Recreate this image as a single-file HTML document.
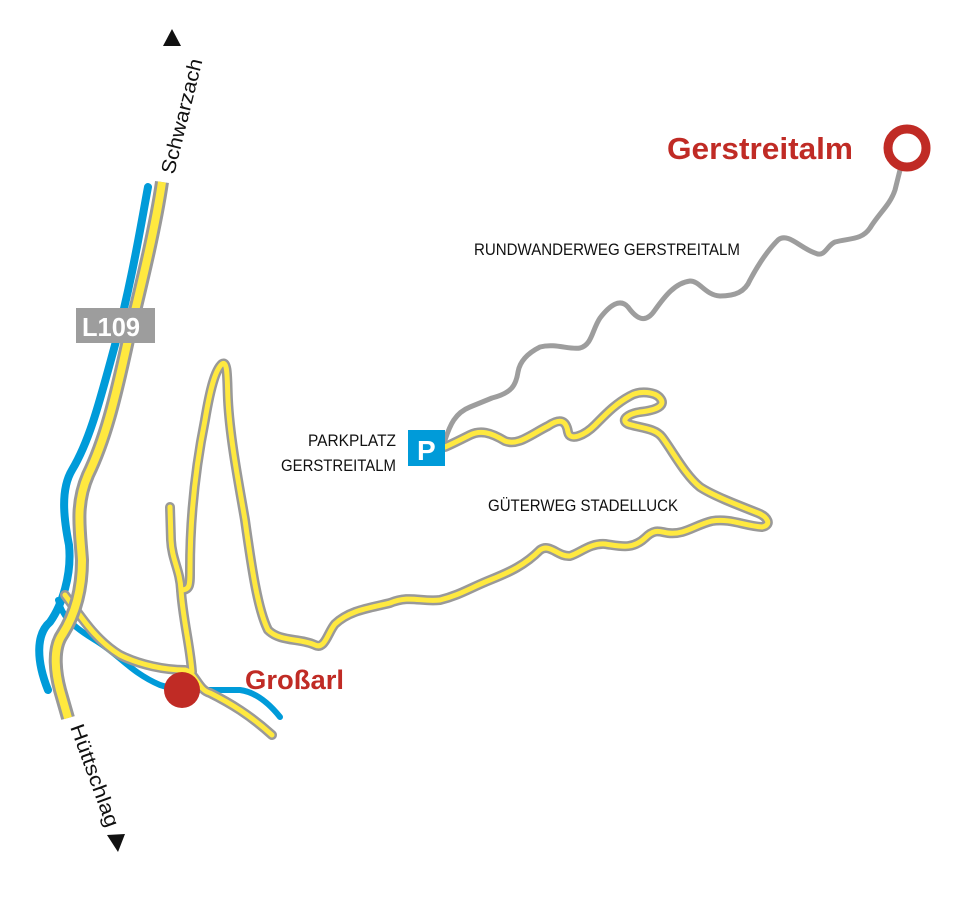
<!DOCTYPE html>
<html><head><meta charset="utf-8"><style>
html,body{margin:0;padding:0;background:#fff;}
svg{display:block}
text{font-family:"Liberation Sans",sans-serif}
</style></head><body>
<svg width="968" height="920" viewBox="0 0 968 920">
<defs>
<path id="r1" d="M162,182 C155,230 140,290 128,340 C115,400 105,440 88,475 C75,505 80,530 82,560 C82,590 75,615 62,635 C52,650 56,675 60,690 L68,718"/>
<path id="r2" d="M65,595 C80,615 95,640 120,655 C140,665 165,670 185,670 C195,672 198,690 210,693 C230,703 250,715 272,735"/>
<path id="r3" d="M170,507 L171,540 C172,560 180,570 181,590 C183,620 190,645 192,672"/>
<path id="r4" d="M181,590 C190,590 190,585 190,570 C190,520 195,470 205,420 C210,390 215,370 222,364 C228,360 227,380 228,400 C230,440 240,490 245,520 C252,570 258,610 268,630 C280,642 300,638 315,645 C325,650 328,632 335,624 C350,610 370,608 390,603 C410,595 420,602 440,600 C460,595 470,588 490,580 C510,572 525,565 540,550 C550,543 558,557 570,556 C580,553 590,543 605,544 C620,546 632,550 645,538 C655,528 660,532 668,533 C685,535 695,525 712,521 C730,518 745,526 762,527 C772,525 768,517 758,513 C735,504 712,495 700,487 C685,475 672,450 662,437 C655,428 640,428 628,424 C620,420 628,414 640,412 C658,410 666,405 660,398 C655,392 640,390 630,396 C615,404 605,415 595,425 C585,435 570,442 568,432 C566,420 560,418 548,426 C530,435 518,446 505,441 C490,432 480,430 470,435 C460,440 450,445 445,447"/>
</defs>
<g fill="none" stroke-linecap="round" stroke-linejoin="round">
<path d="M148,187 C140,230 132,280 115,345 C100,400 90,440 72,470 C60,490 64,520 69,545 C72,575 62,605 50,622 C36,634 36,660 48,690" stroke="#009bd9" stroke-width="8"/>
<path d="M58,600 C62,615 70,625 95,640 C120,655 130,672 160,685 C175,690 190,690 205,690 L240,690 C255,692 268,702 280,717" stroke="#009bd9" stroke-width="6"/>
<path d="M445,440 C450,425 455,413 470,407 L492,398 C512,393 516,385 518,372 C520,360 530,352 540,347 C555,343 570,350 580,348 C592,345 592,330 600,318 C610,305 620,298 628,307 C636,318 645,325 655,310 C665,296 675,283 690,281 C700,281 705,295 720,296 C735,296 745,292 750,280 C758,265 768,250 778,240 C788,232 800,248 815,253 C825,258 827,245 835,242 C850,238 862,240 870,228 C880,212 890,205 895,190 L900,170" stroke="#9d9d9d" stroke-width="5"/>
<use href="#r2" stroke="#999" stroke-width="10"/>
<use href="#r3" stroke="#999" stroke-width="10"/>
<use href="#r4" stroke="#999" stroke-width="10"/>
<use href="#r2" stroke="#ffe93f" stroke-width="5"/>
<use href="#r3" stroke="#ffe93f" stroke-width="5"/>
<use href="#r4" stroke="#ffe93f" stroke-width="5"/>
<use href="#r1" stroke="#999" stroke-width="14" stroke-linecap="butt"/>
<use href="#r1" stroke="#ffe93f" stroke-width="8" stroke-linecap="butt"/>
</g>
<circle cx="907" cy="148" r="19" fill="#fff" stroke="#c02b25" stroke-width="9"/>
<circle cx="182" cy="690" r="18" fill="#c02b25"/>
<rect x="76" y="308" width="79" height="35" fill="#9d9d9d"/>
<text x="82" y="336" font-size="26" font-weight="bold" fill="#fff" textLength="58" lengthAdjust="spacingAndGlyphs">L109</text>
<rect x="408" y="430" width="37" height="36" fill="#009bd9"/>
<text x="417" y="460" font-size="28" font-weight="bold" fill="#fff">P</text>
<text x="667" y="159" font-size="31" font-weight="bold" fill="#c02b25" textLength="186" lengthAdjust="spacingAndGlyphs">Gerstreitalm</text>
<text x="245" y="689" font-size="27" font-weight="bold" fill="#c02b25" textLength="99" lengthAdjust="spacingAndGlyphs">Großarl</text>
<text x="474" y="255" font-size="17" fill="#111" textLength="266" lengthAdjust="spacingAndGlyphs">RUNDWANDERWEG GERSTREITALM</text>
<text x="488" y="511" font-size="17" fill="#111" textLength="190" lengthAdjust="spacingAndGlyphs">GÜTERWEG STADELLUCK</text>
<text x="396" y="446" font-size="17" fill="#111" text-anchor="end" textLength="88" lengthAdjust="spacingAndGlyphs">PARKPLATZ</text>
<text x="396" y="471" font-size="17" fill="#111" text-anchor="end" textLength="115" lengthAdjust="spacingAndGlyphs">GERSTREITALM</text>
<text transform="translate(174,175) rotate(-76)" font-size="20" fill="#111" textLength="118" lengthAdjust="spacingAndGlyphs">Schwarzach</text>
<polygon points="172,29 163,46 181,46" fill="#111"/>
<text transform="translate(70,727) rotate(70)" font-size="20" fill="#111" textLength="108" lengthAdjust="spacingAndGlyphs">Hüttschlag</text>
<polygon points="118,852 107,835 125,834" fill="#111"/>
</svg>
</body></html>
